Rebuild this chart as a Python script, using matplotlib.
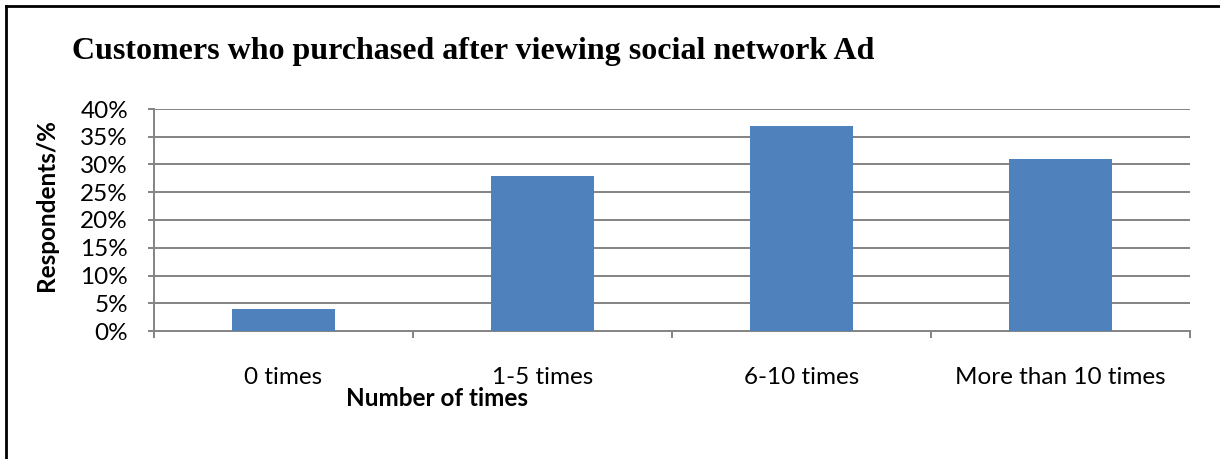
import matplotlib.pyplot as plt
from matplotlib.lines import Line2D
from matplotlib.ticker import FuncFormatter

categories = ["0 times", "1-5 times", "6-10 times", "More than 10 times"]
respondents_pct = [4, 28, 37, 31]
y_ticks = [0, 5, 10, 15, 20, 25, 30, 35, 40]

BAR_COLOR = "#4F81BD"
GRID_COLOR = "#868686"
SANS = ["Lato", "DejaVu Sans"]
SERIF = ["Liberation Serif", "DejaVu Serif"]
PX = 72 / 100  # points per pixel at dpi 100

fig = plt.figure(figsize=(12.2, 4.59), dpi=100)
ax = fig.add_axes([154 / 1220, 1 - 331 / 459, (1190 - 154) / 1220, (331 - 109) / 459])

x = range(len(categories))
ax.bar(x, respondents_pct, width=0.4, color=BAR_COLOR, zorder=3)

ax.set_xlim(-0.5, len(categories) - 0.5)
ax.set_ylim(0, 40)
ax.set_yticks(y_ticks)
ax.yaxis.set_major_formatter(FuncFormatter(lambda v, _: f"{v:.0f}%"))
ax.grid(axis="y", color=GRID_COLOR, linewidth=2 * PX, zorder=0)

# category labels sit between the boundary ticks
ax.set_xticks([i - 0.5 for i in range(len(categories) + 1)])
ax.set_xticklabels([])
ax.set_xticks(list(x), minor=True)
ax.set_xticklabels(categories, minor=True, fontsize=17.5, family=SANS)
ax.tick_params(axis="x", which="minor", length=0, pad=36 * PX)
ax.tick_params(axis="x", which="major", length=7 * PX, width=2 * PX, color=GRID_COLOR)
ax.tick_params(axis="y", length=6 * PX, width=2 * PX, color=GRID_COLOR, pad=20 * PX, labelsize=17.5)
for lbl in ax.get_yticklabels():
    lbl.set_family(SANS)

for side in ("top", "right"):
    ax.spines[side].set_visible(False)
for side in ("left", "bottom"):
    ax.spines[side].set_color(GRID_COLOR)
    ax.spines[side].set_linewidth(2 * PX)

fig.text(72 / 1220, 1 - 52 / 459, "Customers who purchased after viewing social network Ad",
         family=SERIF, fontsize=23, fontweight="bold", va="center", ha="left")
fig.text(437 / 1220, 1 - 399 / 459, "Number of times", family=SANS, fontsize=17.5,
         fontweight="bold", ha="center", va="center")
fig.text(46 / 1220, 1 - 205 / 459, "Respondents/%", family=SANS, fontsize=17.5,
         fontweight="bold", ha="center", va="center", rotation=90)

# frame around the chart area
fig.add_artist(Line2D([6 / 1220, 1], [1 - 6 / 459, 1 - 6 / 459], color="black", linewidth=2))
fig.add_artist(Line2D([6 / 1220, 6 / 1220], [0, 1 - 6 / 459], color="black", linewidth=2))

fig.savefig("out.png", dpi=100)
